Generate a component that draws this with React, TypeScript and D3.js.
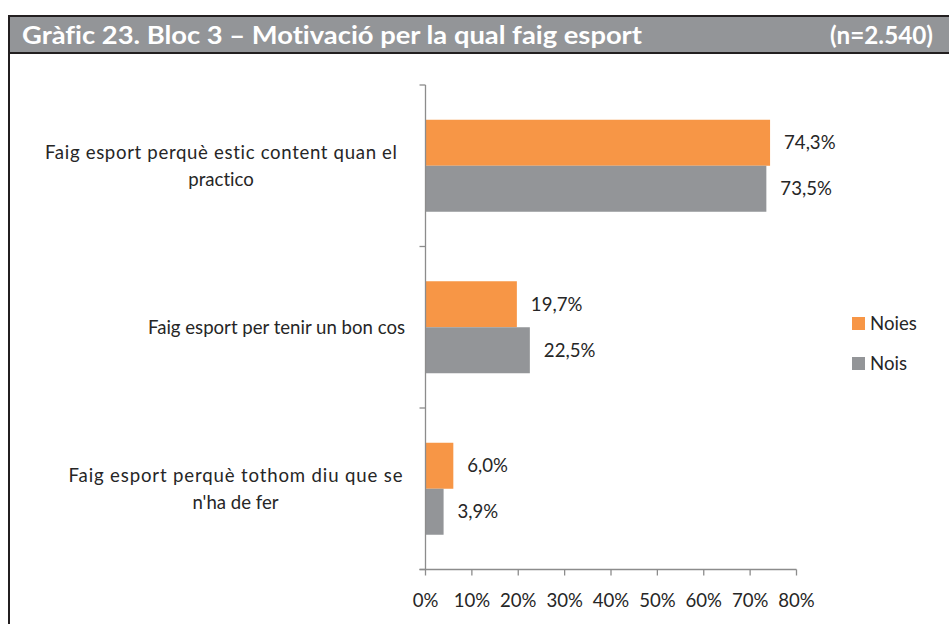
import React from "react";
import * as d3 from "d3";

const categories = [
  ["Faig esport perquè estic content quan el", "practico"],
  ["Faig esport per tenir un bon cos"],
  ["Faig esport perquè tothom diu que se", "n'ha de fer"],
];
const seriesNames = ["Noies", "Nois"];
const noies = [74.3, 19.7, 6.0];
const nois = [73.5, 22.5, 3.9];
const xTicks = [0, 10, 20, 30, 40, 50, 60, 70, 80];
const colors = ["#f79646", "#939598"];

const W = 949;
const H = 624;
const FONT = "Lato, 'Open Sans', sans-serif";
const TXT = "#262626";
const AX = "#8c8c8c";
const FS = 18.6;

export default function App() {
  const x = d3.scaleLinear().domain([0, 80]).range([425.5, 796.5]);
  const y = d3
    .scaleBand<number>()
    .domain(categories.map((_, i) => i))
    .range([85, 569.5])
    .paddingInner(0)
    .paddingOuter(0);
  const bh = 46;
  const series = [noies, nois];
  const fmt = (v: number) => v.toFixed(1).replace(".", ",") + "%";
  const blockCenters = [221, 0, 235.5];
  const firstLineLen = [352, 0, 334];

  return (
    <svg
      width={W}
      height={H}
      style={{ position: "absolute", left: 0, top: 0, background: "#fff", fontVariantLigatures: "none" }}
      fontFamily={FONT}
    >
      {/* header */}
      <rect x={9} y={16} width={W} height={37} fill="#939598" />
      <line x1={8} x2={W} y1={16} y2={16} stroke="#231f20" strokeWidth={2} />
      <line x1={8} x2={W} y1={53} y2={53} stroke="#231f20" strokeWidth={2} />
      <line x1={9} x2={9} y1={15} y2={H} stroke="#231f20" strokeWidth={2} />
      <text x={22} y={44} fill="#fff" fontWeight="bold" fontSize={24} textLength={620} lengthAdjust="spacingAndGlyphs">
        Gràfic 23. Bloc 3 – Motivació per la qual faig esport
      </text>
      <text x={933} y={44} fill="#fff" fontWeight="bold" fontSize={24} textAnchor="end" textLength={103} lengthAdjust="spacingAndGlyphs">
        (n=2.540)
      </text>

      {/* bars */}
      {categories.map((_, i) => {
        const c = y(i)! + y.bandwidth() / 2;
        return series.map((s, k) => {
          const y0 = c - bh + k * bh;
          return (
            <g key={`${i}-${k}`}>
              <rect x={x(0)} y={y0} width={x(s[i]) - x(0)} height={bh} fill={colors[k]} />
              <text x={x(s[i]) + 14} y={y0 + bh / 2} dy="0.35em" fontSize={FS} fill={TXT}>
                {fmt(s[i])}
              </text>
            </g>
          );
        });
      })}

      {/* category axis */}
      <line x1={x(0)} x2={x(0)} y1={85} y2={569.5} stroke={AX} strokeWidth={1.3} />
      {[...categories.map((_, i) => y(i)!), 569.5].map((t, i) => (
        <line key={i} x1={x(0) - 6} x2={x(0)} y1={t} y2={t} stroke={AX} strokeWidth={1.3} />
      ))}
      {categories.map((lines, i) => {
        const c = y(i)! + y.bandwidth() / 2;
        const lh = 27.5;
        const top = c - ((lines.length - 1) * lh) / 2;
        return (
          <g key={i}>
            {lines.length === 1 ? (
              <text x={405} y={c} dy="0.35em" textAnchor="end" fontSize={FS} fill={TXT}>
                {lines[0]}
              </text>
            ) : (
              lines.map((l, j) => (
                <text
                  key={j}
                  x={blockCenters[i]}
                  y={top + j * lh}
                  dy="0.35em"
                  textAnchor="middle"
                  fontSize={FS}
                  fill={TXT}
                  {...(j === 0 ? { textLength: firstLineLen[i], lengthAdjust: "spacing" } : {})}
                >
                  {l}
                </text>
              ))
            )}
          </g>
        );
      })}

      {/* value axis */}
      <line x1={x(0) - 6} x2={x(80)} y1={569.5} y2={569.5} stroke={AX} strokeWidth={1.3} />
      {xTicks.map((t) => (
        <g key={t}>
          <line x1={x(t)} x2={x(t)} y1={569.5} y2={575.5} stroke={AX} strokeWidth={1.3} />
          <text x={x(t)} y={600} dy="0.35em" textAnchor="middle" fontSize={FS} fill={TXT}>
            {t}%
          </text>
        </g>
      ))}

      {/* legend */}
      {seriesNames.map((n, k) => (
        <g key={n} transform={`translate(852, ${317 + k * 40})`}>
          <rect x={0} y={0} width={13} height={13} fill={colors[k]} />
          <text x={18} y={6.5} dy="0.35em" fontSize={FS} fill={TXT}>
            {n}
          </text>
        </g>
      ))}
    </svg>
  );
}
